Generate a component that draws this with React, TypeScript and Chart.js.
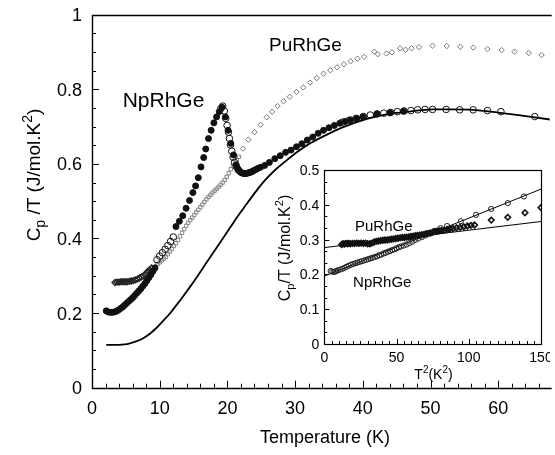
import React, { useEffect, useRef } from "react";
import { Chart, registerables } from "chart.js";

Chart.register(...registerables);

const FONT = '"Liberation Sans", Arial, Helvetica, sans-serif';

// ---------------- Main chart data (Temperature K, Cp/T J/mol.K^2) ----------------
const npFilledT = [
  2.1, 2.4, 2.7, 3.0, 3.3, 3.6, 3.9, 4.2, 4.5, 4.8, 5.1, 5.4, 5.7, 6.0, 6.3, 6.6, 6.9, 7.2, 7.5, 7.8, 8.1, 8.4, 8.7, 9.0, 9.3,
  12.4, 12.9, 13.4, 13.9, 14.4, 14.9, 15.3, 15.7, 16.1, 16.5, 16.8, 17.2, 17.6, 18.0, 18.4, 18.8, 19.2,
  19.7, 20.1, 20.5, 20.9,
  21.3, 21.5, 21.7, 21.9, 22.1, 22.3, 22.5, 22.7, 22.9, 23.1, 23.3, 23.5, 23.7, 23.9, 24.2, 24.5, 24.9,
  25.5, 26.2, 27.0, 27.8, 28.6, 29.4, 30.2, 31.0, 31.8, 32.6, 33.4, 34.2, 35.0, 35.8, 36.6, 37.4, 38.2, 39.1, 40.0, 42.1, 44.0, 46.0,
];
const npFilledV = [
  0.206, 0.203, 0.202, 0.202, 0.203, 0.205, 0.208, 0.212, 0.216, 0.221, 0.226, 0.231, 0.236, 0.241, 0.247, 0.253, 0.259, 0.265, 0.272, 0.279, 0.287, 0.295, 0.303, 0.312, 0.321,
  0.432, 0.446, 0.461, 0.481, 0.502, 0.523, 0.541, 0.563, 0.592, 0.617, 0.64, 0.668, 0.69, 0.71, 0.726, 0.74, 0.752,
  0.726, 0.69, 0.655, 0.624,
  0.597, 0.588, 0.582, 0.578, 0.576, 0.575, 0.574, 0.574, 0.575, 0.576, 0.577, 0.578, 0.58, 0.582, 0.585, 0.588, 0.591,
  0.596, 0.604, 0.614, 0.622, 0.631, 0.637, 0.646, 0.654, 0.664, 0.672, 0.682, 0.69, 0.697, 0.703, 0.709, 0.714, 0.718, 0.722, 0.726, 0.734, 0.737, 0.741,
];

const npOpenT = [
  9.6, 10.0, 10.4, 10.8, 11.2, 11.6, 12.0,
  19.0, 19.3, 19.55, 19.75, 19.95, 20.15, 20.3, 20.45, 20.65, 20.85, 21.05, 21.3, 21.6,
  37.0, 38.0, 39.0, 40.1, 41.1, 42.1, 43.1, 44.1, 45.1, 46.1, 47.1, 48.1, 49.2, 50.3, 52.3, 54.3, 56.3, 58.4, 60.4, 65.4,
];
const npOpenV = [
  0.343, 0.353, 0.362, 0.371, 0.381, 0.392, 0.404,
  0.748, 0.755, 0.742, 0.722, 0.703, 0.685, 0.668, 0.651, 0.634, 0.618, 0.604, 0.593, 0.584,
  0.712, 0.717, 0.722, 0.727, 0.731, 0.734, 0.736, 0.738, 0.74, 0.742, 0.743, 0.745, 0.746, 0.746, 0.746, 0.745, 0.745, 0.743, 0.74, 0.727,
];

const puClusterT = [3.4, 3.7, 4.0, 4.3, 4.6, 4.9, 5.2, 5.5, 5.8, 6.1, 6.4, 6.7, 7.0, 7.3, 7.6, 7.9, 8.2, 8.5, 8.8];
const puClusterV = [0.282, 0.283, 0.283, 0.284, 0.284, 0.284, 0.284, 0.285, 0.286, 0.287, 0.289, 0.291, 0.294, 0.297, 0.3, 0.305, 0.311, 0.316, 0.321];

const puRectT = [
  9.1, 9.4, 9.7, 10.0, 10.3, 10.6, 10.9, 11.2, 11.5, 11.8, 12.1, 12.4, 12.7, 13.0, 13.3, 13.6, 13.9, 14.2, 14.5, 14.8, 15.1,
  15.4, 15.7, 16.0, 16.3, 16.6, 16.9, 17.2, 17.5, 17.8, 18.1, 18.4, 18.7, 19.0, 19.3, 19.6, 19.9, 20.2, 20.5, 20.8, 21.1, 21.4, 21.7,
];
const puRectV = [
  0.32, 0.325, 0.331, 0.336, 0.341, 0.346, 0.351, 0.358, 0.365, 0.372, 0.38, 0.387, 0.396, 0.406, 0.415, 0.425, 0.434, 0.442, 0.449, 0.456, 0.463,
  0.47, 0.477, 0.484, 0.491, 0.498, 0.505, 0.511, 0.517, 0.523, 0.528, 0.533, 0.538, 0.544, 0.55, 0.557, 0.565, 0.575, 0.586, 0.594, 0.601, 0.61, 0.619,
];

const puDiamondT = [
  22.3, 23.1, 24.0, 24.9, 25.8, 26.6, 27.4, 28.3, 29.2, 30.2, 31.2, 32.2, 33.2, 34.2, 35.2, 36.2, 37.2, 38.2, 39.2, 40.2,
  41.7, 42.2, 43.5, 44.3, 45.5, 46.3, 47.2, 48.3, 50.3, 52.4, 54.4, 56.3, 58.4, 60.5, 62.4, 64.5, 66.4,
];
const puDiamondV = [
  0.641, 0.665, 0.685, 0.705, 0.725, 0.74, 0.755, 0.768, 0.78, 0.793, 0.805, 0.818, 0.83, 0.842, 0.851, 0.859, 0.867, 0.875, 0.882, 0.887,
  0.901, 0.894, 0.896, 0.899, 0.91, 0.906, 0.91, 0.913, 0.917, 0.916, 0.914, 0.912, 0.908, 0.905, 0.901, 0.897, 0.892,
];

const refCurveT = [
  2.1, 3.0, 4.0, 4.8, 5.6, 6.5, 7.5, 8.5, 9.5, 10.5, 11.5, 12.5, 13.5, 14.5, 15.5, 16.5, 17.5, 18.5, 19.5, 20.5, 21.5,
  22.5, 23.5, 24.5, 25.5, 27.0, 28.5, 30.0, 32.0, 34.3, 37.0, 40.6, 43.5, 46.5, 50.4, 53.0, 56.2, 60.3, 63.0, 65.4, 68.0,
];
const refCurveV = [
  0.115, 0.115, 0.115, 0.116, 0.119, 0.124, 0.132, 0.144, 0.16, 0.179, 0.199, 0.222, 0.246, 0.271, 0.297, 0.324, 0.351, 0.378, 0.405, 0.432, 0.459,
  0.484, 0.509, 0.533, 0.555, 0.583, 0.606, 0.628, 0.653, 0.675, 0.698, 0.721, 0.733, 0.74, 0.746, 0.746, 0.745, 0.737, 0.731, 0.725, 0.718,
];

const mainXTicks = [0, 10, 20, 30, 40, 50, 60];
const mainXLabels = ["0", "10", "20", "30", "40", "50", "60"];
const mainYTicks = [0, 0.2, 0.4, 0.6, 0.8, 1];
const mainYLabels = ["0", "0.2", "0.4", "0.6", "0.8", "1"];

// ---------------- Inset data (T^2 K^2, Cp/T) ----------------
const insetNpX = [
  4.4, 5.5, 6.5, 7.5, 8.5, 9.5, 11, 12.5, 14, 15.5, 17, 18.5, 20, 21.5, 23, 24.5, 26, 27.5, 29, 30.5, 32, 33.5, 35, 36.5,
  38, 39.5, 41, 42.5, 44, 45.5, 47, 48.5, 50, 51.5, 53, 55, 57, 59, 61, 63, 65, 67.5, 70, 73, 76.5, 80.5, 85, 94.5, 105, 115.5, 127, 138.2,
];
const insetNpV = [
  0.21, 0.208, 0.207, 0.208, 0.21, 0.212, 0.214, 0.216, 0.219, 0.222, 0.225, 0.228, 0.23, 0.232, 0.234, 0.236, 0.238, 0.24, 0.242, 0.244, 0.246, 0.248, 0.25, 0.252,
  0.255, 0.257, 0.26, 0.262, 0.265, 0.267, 0.27, 0.272, 0.275, 0.278, 0.28, 0.283, 0.286, 0.29, 0.294, 0.299, 0.303, 0.307, 0.312, 0.318, 0.325, 0.333, 0.339, 0.353, 0.371, 0.388, 0.405, 0.424,
];
const insetPuX = [
  12, 13, 14, 15, 16, 17, 18, 19.5, 21, 22.5, 24, 25.5, 27, 28.5, 30, 31.5, 33, 34.5, 36, 37.5, 39, 40.5, 42, 43.5, 45, 46.5, 48,
  49.5, 51, 52.5, 54, 55.5, 57, 58.5, 60, 61.5, 63, 64.5, 66, 67.5, 69, 70.5, 72, 73.5, 75, 76.5, 78, 79.5, 81, 83, 85, 87, 89,
  91.5, 94, 96.5, 99, 101.5, 104, 115.6, 127, 138.9, 150,
];
const insetPuV = [
  0.286, 0.288, 0.287, 0.289, 0.288, 0.289, 0.288, 0.289, 0.289, 0.29, 0.289, 0.29, 0.289, 0.29, 0.288, 0.288, 0.29, 0.293, 0.295, 0.296, 0.297, 0.298, 0.299, 0.299, 0.3, 0.301, 0.302,
  0.303, 0.304, 0.305, 0.306, 0.306, 0.307, 0.308, 0.309, 0.31, 0.311, 0.312, 0.313, 0.314, 0.315, 0.317, 0.318, 0.319, 0.321, 0.323, 0.324, 0.325, 0.326, 0.327, 0.329, 0.331, 0.332,
  0.334, 0.335, 0.337, 0.339, 0.341, 0.342, 0.356, 0.364, 0.377, 0.392,
];
const insetNpFitX = [0, 150];
const insetNpFitV = [0.195, 0.445];
const insetPuFitX = [0, 150];
const insetPuFitV = [0.277, 0.352];

const insetXTicks = [0, 50, 100, 150];
const insetXLabels = ["0", "50", "100", "150"];
const insetYTicks = [0, 0.1, 0.2, 0.3, 0.4, 0.5];
const insetYLabels = ["0", "0.1", "0.2", "0.3", "0.4", "0.5"];

const pts = (xs: number[], ys: number[]) => xs.map((x, i) => ({ x, y: ys[i] }));

type Part = { t: string; s: number; dy?: number };
function drawRich(ctx: CanvasRenderingContext2D, parts: Part[], x: number, y: number, rot: number) {
  ctx.save();
  ctx.translate(x, y);
  ctx.rotate(rot);
  let total = 0;
  for (const p of parts) {
    ctx.font = `${p.s}px ${FONT}`;
    total += ctx.measureText(p.t).width;
  }
  let cx = -total / 2;
  ctx.textAlign = "left";
  ctx.textBaseline = "alphabetic";
  ctx.fillStyle = "#000";
  for (const p of parts) {
    ctx.font = `${p.s}px ${FONT}`;
    ctx.fillText(p.t, cx, p.dy || 0);
    cx += ctx.measureText(p.t).width;
  }
  ctx.restore();
}

const crisp = (v: number) => Math.round(v) + 0.5;

const mainAxesPlugin = {
  id: "mainAxes",
  afterDraw(chart: any) {
    const { ctx, chartArea: a, scales } = chart;
    const xs = scales.x;
    const ys = scales.y;
    ctx.save();
    ctx.strokeStyle = "#000";
    ctx.fillStyle = "#000";
    ctx.lineWidth = 1.4;
    ctx.beginPath();
    ctx.moveTo(a.right + 2, crisp(a.top));
    ctx.lineTo(crisp(a.left), crisp(a.top));
    ctx.lineTo(crisp(a.left), crisp(a.bottom));
    ctx.lineTo(a.right + 2, crisp(a.bottom));
    ctx.stroke();
    ctx.lineWidth = 1;
    ctx.beginPath();
    for (let i = 0; i <= 20; i++) {
      const py = crisp(ys.getPixelForValue(i * 0.05));
      const len = i % 4 === 0 ? 7 : 4;
      ctx.moveTo(a.left, py);
      ctx.lineTo(a.left + len, py);
    }
    for (let i = 0; i <= 34; i++) {
      const v = i * 2;
      if (v > xs.max) break;
      const px = crisp(xs.getPixelForValue(v));
      const len = i % 5 === 0 ? 7 : 4;
      ctx.moveTo(px, a.bottom);
      ctx.lineTo(px, a.bottom - len);
    }
    ctx.stroke();
    ctx.font = `18px ${FONT}`;
    ctx.textAlign = "right";
    ctx.textBaseline = "alphabetic";
    mainYTicks.forEach((v, i) => {
      ctx.fillText(mainYLabels[i], a.left - 10, ys.getPixelForValue(v) + 6.4);
    });
    ctx.textAlign = "center";
    mainXTicks.forEach((v, i) => {
      ctx.fillText(mainXLabels[i], xs.getPixelForValue(v), a.bottom + 26.3);
    });
    ctx.font = `18px ${FONT}`;
    ctx.textAlign = "center";
    ctx.fillText("Temperature (K)", 325, 443);
    drawRich(
      ctx,
      [
        { t: "C", s: 19 },
        { t: "p", s: 14, dy: 5 },
        { t: " /T (J/mol.K", s: 19 },
        { t: "2", s: 14, dy: -8 },
        { t: ")", s: 19 },
      ],
      40,
      175,
      -Math.PI / 2
    );
    ctx.textAlign = "left";
    ctx.font = `21px ${FONT}`;
    ctx.fillText("NpRhGe", xs.getPixelForValue(4.53), ys.getPixelForValue(0.752));
    ctx.font = `19px ${FONT}`;
    ctx.fillText("PuRhGe", xs.getPixelForValue(26.15), ys.getPixelForValue(0.9035));
    ctx.restore();
  },
};

const insetAxesPlugin = {
  id: "insetAxes",
  beforeDraw(chart: any) {
    const { ctx, chartArea: a } = chart;
    ctx.save();
    ctx.fillStyle = "#fff";
    ctx.fillRect(a.left, a.top, a.right - a.left, a.bottom - a.top);
    ctx.restore();
  },
  afterDraw(chart: any) {
    const { ctx, chartArea: a, scales } = chart;
    const xs = scales.x;
    const ys = scales.y;
    ctx.save();
    ctx.strokeStyle = "#000";
    ctx.fillStyle = "#000";
    ctx.lineWidth = 1.2;
    ctx.strokeRect(crisp(a.left), crisp(a.top), Math.round(a.right - a.left), Math.round(a.bottom - a.top));
    ctx.lineWidth = 1;
    ctx.beginPath();
    for (let i = 0; i <= 15; i++) {
      const py = crisp(ys.getPixelForValue(i / 30));
      const len = i % 3 === 0 ? 5 : 3;
      ctx.moveTo(a.left, py);
      ctx.lineTo(a.left + len, py);
    }
    for (let i = 0; i <= 30; i++) {
      const px = crisp(xs.getPixelForValue(i * 5));
      const len = i % 10 === 0 ? 5 : 3;
      ctx.moveTo(px, a.bottom);
      ctx.lineTo(px, a.bottom - len);
    }
    ctx.stroke();
    ctx.font = `14px ${FONT}`;
    ctx.textAlign = "right";
    insetYTicks.forEach((v, i) => {
      ctx.fillText(insetYLabels[i], a.left - 5, ys.getPixelForValue(v) + 5);
    });
    ctx.textAlign = "center";
    insetXTicks.forEach((v, i) => {
      ctx.fillText(insetXLabels[i], xs.getPixelForValue(v), a.bottom + 18);
    });
    drawRich(
      ctx,
      [
        { t: "T", s: 14 },
        { t: "2", s: 10, dy: -6 },
        { t: "(K", s: 14 },
        { t: "2", s: 10, dy: -6 },
        { t: ")", s: 14 },
      ],
      173.5,
      219,
      0
    );
    drawRich(
      ctx,
      [
        { t: "C", s: 16 },
        { t: "p", s: 11, dy: 4 },
        { t: "/T (J/mol.K", s: 16 },
        { t: "2", s: 11, dy: -7 },
        { t: ")", s: 16 },
      ],
      29.5,
      88,
      -Math.PI / 2
    );
    ctx.textAlign = "left";
    ctx.font = `15px ${FONT}`;
    ctx.fillText("PuRhGe", xs.getPixelForValue(21.25), ys.getPixelForValue(0.3256));
    ctx.fillText("NpRhGe", xs.getPixelForValue(19.9), ys.getPixelForValue(0.1647));
    ctx.restore();
  },
};

export default function App() {
  const mainRef = useRef<HTMLCanvasElement | null>(null);
  const insetRef = useRef<HTMLCanvasElement | null>(null);

  useEffect(() => {
    if (!mainRef.current || !insetRef.current) return;
    const main = new Chart(mainRef.current, {
      type: "scatter",
      data: {
        datasets: [
          {
            data: pts(npOpenT, npOpenV),
            pointStyle: "circle",
            pointRadius: 3.3,
            pointBackgroundColor: "rgba(255,255,255,0)",
            pointBorderColor: "#111",
            pointBorderWidth: 1,
            showLine: false,
          },
          {
            data: pts(npFilledT, npFilledV),
            pointStyle: "circle",
            pointRadius: 3,
            pointBackgroundColor: "#111",
            pointBorderColor: "#111",
            pointBorderWidth: 1,
            showLine: false,
          },
          {
            data: pts(puClusterT, puClusterV),
            pointStyle: "rectRot",
            pointRadius: 3,
            pointBackgroundColor: "rgba(255,255,255,0)",
            pointBorderColor: "#222",
            pointBorderWidth: 1.3,
            showLine: false,
          },
          {
            data: pts(puRectT, puRectV),
            pointStyle: "rect",
            pointRadius: 2.4,
            pointBackgroundColor: "rgba(255,255,255,0)",
            pointBorderColor: "#888",
            pointBorderWidth: 1,
            showLine: false,
          },
          {
            data: pts(puDiamondT, puDiamondV),
            pointStyle: "rectRot",
            pointRadius: 2.7,
            pointBackgroundColor: "rgba(255,255,255,0)",
            pointBorderColor: "#777",
            pointBorderWidth: 1,
            showLine: false,
          },
          {
            data: pts(refCurveT, refCurveV),
            showLine: true,
            borderColor: "#000",
            borderWidth: 1.8,
            pointRadius: 0,
            tension: 0.4,
            cubicInterpolationMode: "monotone",
            fill: false,
          },
        ],
      },
      options: {
        responsive: false,
        animation: false,
        devicePixelRatio: 1,
        events: [],
        layout: { padding: { left: 92, top: 14.7, right: 0, bottom: 67.3 } },
        plugins: { legend: { display: false }, tooltip: { enabled: false }, title: { display: false } },
        scales: {
          x: { type: "linear", display: false, min: 0, max: 67.6 },
          y: { type: "linear", display: false, min: 0, max: 1 },
        },
      },
      plugins: [mainAxesPlugin],
    } as any);

    const inset = new Chart(insetRef.current, {
      type: "scatter",
      data: {
        datasets: [
          {
            data: pts(insetPuX, insetPuV),
            pointStyle: "rectRot",
            pointRadius: 2.8,
            pointBackgroundColor: "rgba(255,255,255,0)",
            pointBorderColor: "#111",
            pointBorderWidth: 1.6,
            showLine: false,
          },
          {
            data: pts(insetNpX, insetNpV),
            pointStyle: "circle",
            pointRadius: 2.6,
            pointBackgroundColor: "rgba(255,255,255,0)",
            pointBorderColor: "#222",
            pointBorderWidth: 1,
            showLine: false,
          },
          {
            data: pts(insetNpFitX, insetNpFitV),
            showLine: true,
            borderColor: "#000",
            borderWidth: 1,
            pointRadius: 0,
            fill: false,
          },
          {
            data: pts(insetPuFitX, insetPuFitV),
            showLine: true,
            borderColor: "#000",
            borderWidth: 1,
            pointRadius: 0,
            fill: false,
          },
        ],
      },
      options: {
        responsive: false,
        animation: false,
        devicePixelRatio: 1,
        events: [],
        layout: { padding: { left: 64.3, top: 10, right: 9, bottom: 56 } },
        plugins: { legend: { display: false }, tooltip: { enabled: false }, title: { display: false } },
        scales: {
          x: { type: "linear", display: false, min: 0, max: 150 },
          y: { type: "linear", display: false, min: 0, max: 0.5 },
        },
      },
      plugins: [insetAxesPlugin],
    } as any);

    return () => {
      main.destroy();
      inset.destroy();
    };
  }, []);

  return (
    <div style={{ position: "fixed", left: 0, top: 0, width: 555, height: 455, background: "#fff", overflow: "hidden" }}>
      <canvas ref={mainRef} width={555} height={455} style={{ position: "absolute", left: 0, top: 0, width: 555, height: 455 }} />
      <canvas ref={insetRef} width={290} height={240} style={{ position: "absolute", left: 260, top: 160, width: 290, height: 240 }} />
    </div>
  );
}
